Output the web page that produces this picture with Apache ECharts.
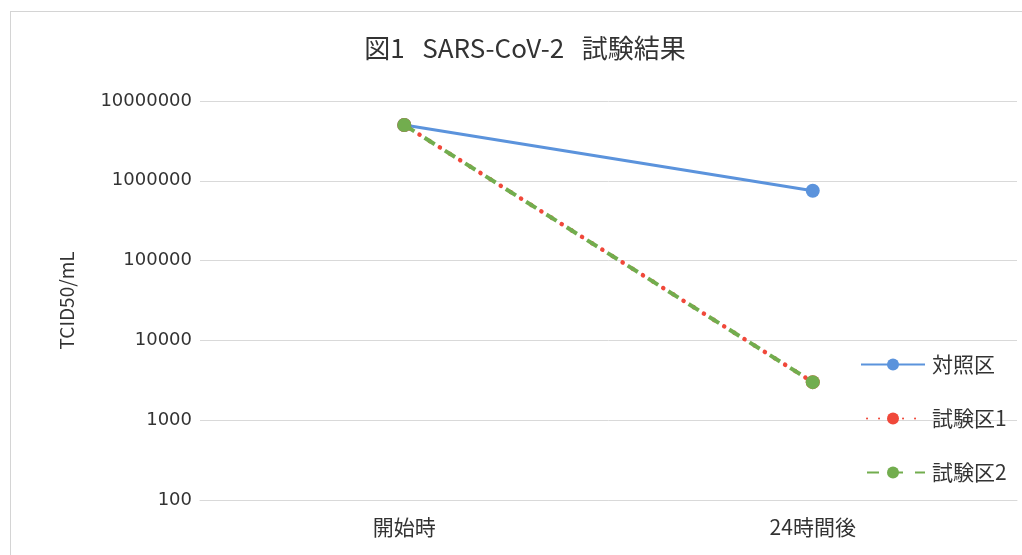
<!DOCTYPE html>
<html>
<head>
<meta charset="utf-8">
<script src="https://cdn.jsdelivr.net/npm/echarts@6/dist/echarts.min.js"></script>
<style>
html,body{margin:0;padding:0;background:#fff;overflow:hidden;}
#frame{position:absolute;left:10px;top:11px;width:1030px;height:560px;border:1px solid #d4d4d4;box-sizing:border-box;}
#chart{position:absolute;left:0;top:0;width:1022px;height:555px;}
</style>
</head>
<body>
<div id="frame"></div>
<div id="chart"></div>
<script>
const categories = ['開始時', '24時間後'];
const seriesNames = ['対照区', '試験区1', '試験区2'];
const controlValues = [5000000, 750000];
const test1Values = [5000000, 3000];
const test2Values = [5000000, 3000];
const yTicks = [100, 1000, 10000, 100000, 1000000, 10000000];

const font = '"Noto Sans CJK JP", "Noto Sans", sans-serif';
const numFont = '"DejaVu Sans", sans-serif';
const chart = echarts.init(document.getElementById('chart'), null, {renderer: 'canvas'});
chart.setOption({
  backgroundColor: 'transparent',
  animation: false,
  title: {
    text: '図1   SARS-CoV-2   試験結果',
    left: 520, top: 30, textAlign: 'center',
    textStyle: {fontFamily: font, fontSize: 26, fontWeight: 'normal', color: '#333'}
  },
  legend: {
    orient: 'vertical',
    left: 855, top: 349,
    itemWidth: 64, itemHeight: 15, itemGap: 33,
    data: seriesNames,
    textStyle: {fontFamily: font, fontSize: 21, color: '#333', padding: [0,0,0,2]}
  },
  grid: {left: 200, right: 5, top: 101, bottom: 55, containLabel: false},
  xAxis: {
    type: 'category', data: categories,
    axisLine: {lineStyle: {color: '#d9d9d9'}},
    axisTick: {show: false},
    axisLabel: {fontFamily: font, fontSize: 21, color: '#333', margin: 17}
  },
  yAxis: {
    type: 'log', logBase: 10, min: yTicks[0], max: yTicks[yTicks.length-1],
    name: 'TCID50/mL', nameLocation: 'middle', nameGap: 124,
    nameTextStyle: {fontFamily: font, fontSize: 19, color: '#333'},
    axisLine: {show: false}, axisTick: {show: false},
    splitLine: {lineStyle: {color: '#d9d9d9', width: 1}},
    axisLabel: {fontFamily: numFont, fontSize: 18, color: '#333', margin: 8,
      formatter: v => String(Math.round(v))}
  },
  series: [
    {name: seriesNames[0], type: 'line', data: controlValues, symbol: 'circle', symbolSize: 14,
      itemStyle: {color: '#5b93dc'}, lineStyle: {color: '#5b93dc', width: 3}, z: 2},
    {name: seriesNames[1], type: 'line', data: test1Values, symbol: 'circle', symbolSize: 14,
      itemStyle: {color: '#f0483a'}, lineStyle: {color: '#f0483a', width: 4.5, type: [0.1, 11.9], dashOffset: -6, cap: 'round'}, z: 3},
    {name: seriesNames[2], type: 'line', data: test2Values, symbol: 'circle', symbolSize: 14,
      itemStyle: {color: '#72ad4e'}, lineStyle: {color: '#72ad4e', width: 4, type: [12, 12], cap: 'butt'}, z: 4}
  ]
});
</script>
</body>
</html>
